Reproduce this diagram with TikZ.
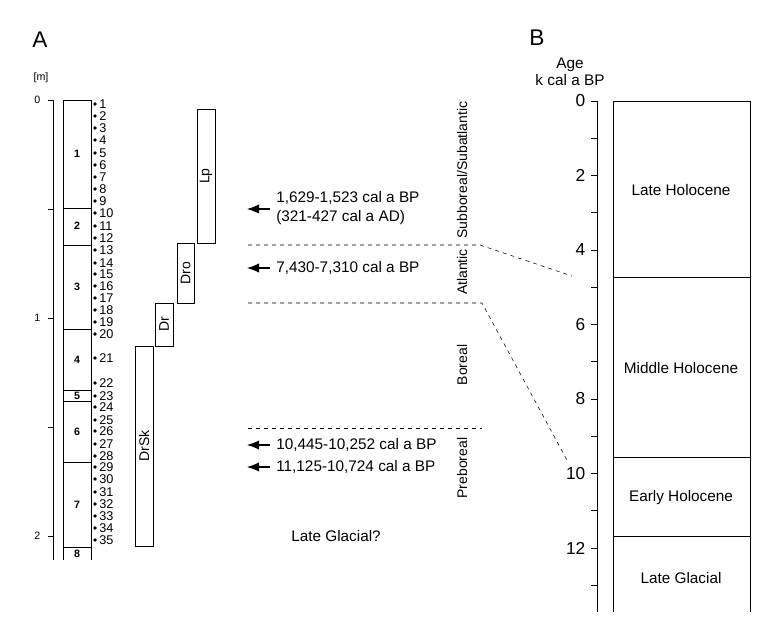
\documentclass[tikz,border=0pt]{standalone}
\usepackage{fontspec}
\setmainfont{Liberation Sans}
\usetikzlibrary{arrows.meta}
\begin{document}
\begin{tikzpicture}[x=0.75pt,y=-0.75pt,
    unitbox/.style={draw,thin},
    samplelbl/.style={font=\fontsize{9.5}{9.5}\selectfont,anchor=west,inner sep=0pt},
    datelbl/.style={font=\fontsize{11.5}{12}\selectfont,anchor=west,inner sep=0pt},
    zonelbl/.style={font=\fontsize{10.5}{10.5}\selectfont,rotate=90,inner sep=0pt},
    agelbl/.style={font=\fontsize{11.5}{11.5}\selectfont},
    datearrow/.style={-{Latex[length=9pt,width=7pt]},thick}]
\useasboundingbox (0,0) rectangle (762,622);
% panel letters
\node[font=\fontsize{17}{17}\selectfont] (lettA) at (40,40) {A};
\node[font=\fontsize{17}{17}\selectfont] (lettB) at (537,38) {B};
% depth axis
\node[font=\footnotesize] (unit) at (41,78) {[m]};
\draw (53,100) -- (53,560);
\foreach \d/\yy in {0/100,1/318,2/536} {
  \draw (48,\yy) -- (53,\yy);
  \node[font=\footnotesize,anchor=east] at (45,\yy) {\d};
}
\foreach \yy in {209,427} \draw (48,\yy) -- (53,\yy);
% lithology column
\draw (63,560) -- (63,100) -- (91,100) -- (91,560);
\foreach \yy in {208,245,329,390,401,462,547} \draw (63,\yy) -- (91,\yy);
\foreach \n/\yy in {1/154,2/226,3/287,4/360,5/396,6/432,7/505,8/554}
  \node[font=\footnotesize\bfseries] (unit\n) at (77,\yy) {\n};
% samples
\foreach \n/\yy in {1/104,2/116,3/128,4/140,5/153,6/165,7/177,8/189,9/201,
    10/213,11/226,12/238,13/250,14/263,15/274,16/286,17/298,18/310,19/322,
    20/334,21/358,22/383,23/396,24/407,25/420,26/431,27/444,28/456,29/467,
    30/479,31/492,32/504,33/516,34/528,35/540} {
  \fill (95,\yy) circle (1.4pt);
  \node[samplelbl] (s\n) at (99,\yy) {\n};
}
% pollen zones
\node[unitbox,zonelbl,minimum width=134pt*0.75,minimum height=18pt*0.75] (Lp) at (206,176) {Lp};
\node[unitbox,zonelbl,minimum width=60pt*0.75,minimum height=17pt*0.75] (Dro) at (185.5,273) {Dro};
\node[unitbox,zonelbl,minimum width=43pt*0.75,minimum height=18pt*0.75] (Dr) at (164,324.5) {Dr};
\node[unitbox,zonelbl,minimum width=200pt*0.75,minimum height=18pt*0.75] (DrSk) at (144,446) {DrSk};
% dates
\node[datelbl] (d1) at (276,198) {1,629-1,523 cal a BP};
\node[datelbl] (d1b) at (276,218) {(321-427 cal a AD)};
\node[datelbl] (d2) at (276,268) {7,430-7,310 cal a BP};
\node[datelbl] (d3) at (276,445) {10,445-10,252 cal a BP};
\node[datelbl] (d4) at (276,467) {11,125-10,724 cal a BP};
\foreach \yy in {209,268,445,467} \draw[datearrow] (270,\yy) -- (247,\yy);
\node[datelbl] (lg) at (291,536) {Late Glacial?};
% chronozones
\node[zonelbl] (subb) at (462,170) {Subboreal/Subatlantic};
\node[zonelbl] (atl) at (462,272) {Atlantic};
\node[zonelbl] (bor) at (462,365) {Boreal};
\node[zonelbl] (preb) at (462,468) {Preboreal};
\draw[dashed] (248,245) -- (480,245) -- (572,276);
\draw[dashed] (248,303) -- (482,303) -- (568,462);
\draw[dashed] (248,428) -- (482,428);
% age axis
\node[agelbl] (age) at (570,65) {Age};
\node[agelbl] (kcal) at (570,80) {k cal a BP};
\draw (597,101) -- (597,612);
\foreach \t in {0,...,13} \draw (591,{101+37.25*\t}) -- (597,{101+37.25*\t});
\foreach \t in {0,2,...,12}
  \node[font=\fontsize{13}{13}\selectfont,anchor=east] at (590,{101+37.25*\t}) {\t};
% periods
\draw (613,612) -- (613,101) -- (750,101) -- (750,612);
\foreach \yy in {277,457,536} \draw (613,\yy) -- (750,\yy);
\node[agelbl] (lh) at (681,190) {Late Holocene};
\node[agelbl] (mh) at (681,368) {Middle Holocene};
\node[agelbl] (eh) at (681,498) {Early Holocene};
\node[agelbl] (lgb) at (681,578) {Late Glacial};
\end{tikzpicture}
\end{document}
